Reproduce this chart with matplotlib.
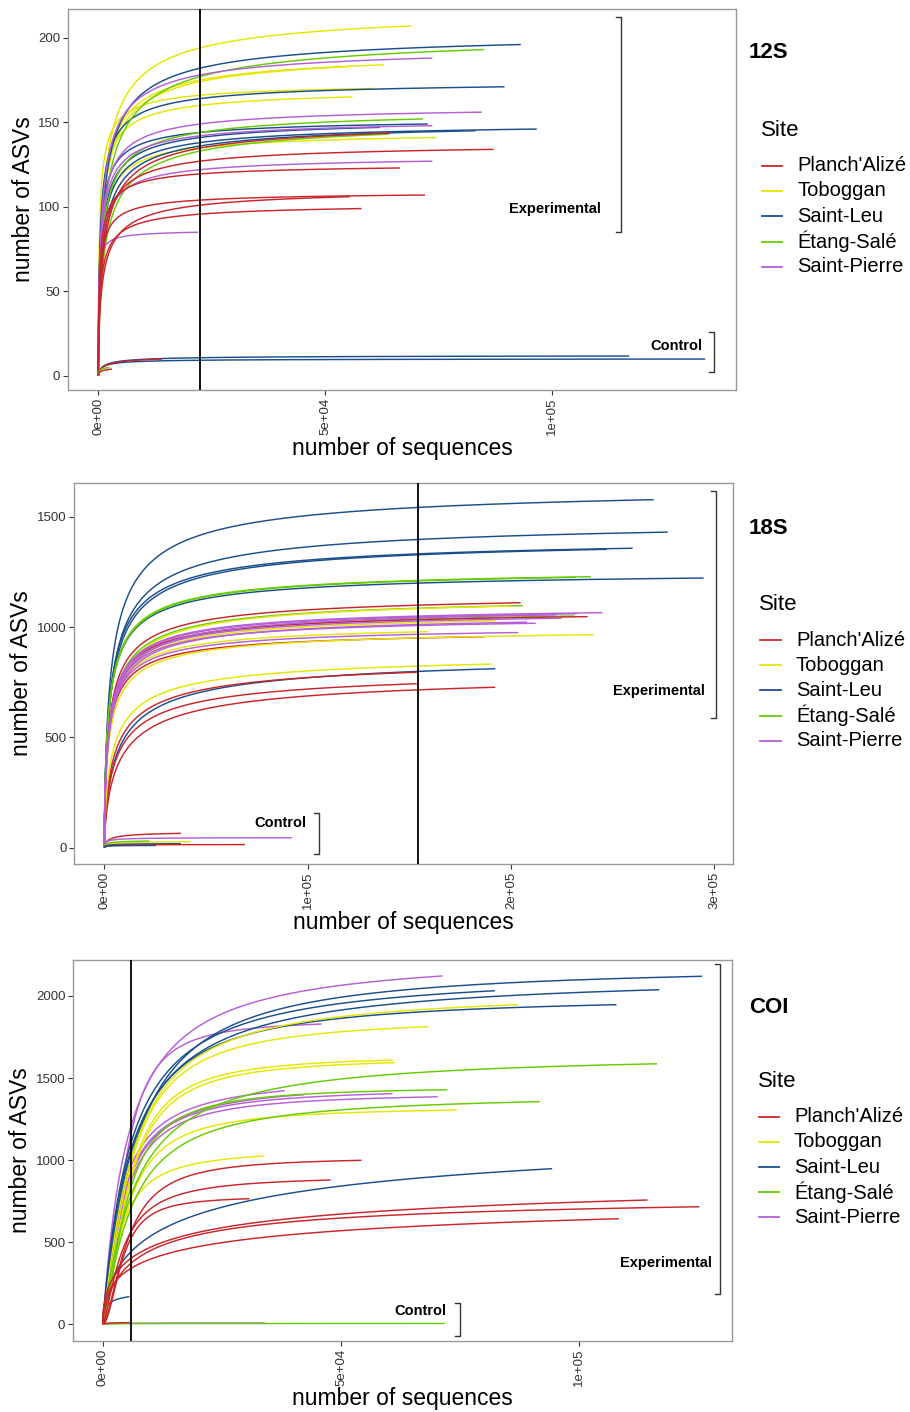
import numpy as np
import matplotlib
matplotlib.use("Agg")
import matplotlib.pyplot as plt
from matplotlib.lines import Line2D

plt.rcParams['font.family'] = ['Liberation Sans', 'DejaVu Sans']

W, H = 910, 1412

sites = ["Planch'Alizé", "Toboggan", "Saint-Leu", "Étang-Salé", "Saint-Pierre"]
site_colors = ["#C9252B", "#E6E600", "#1A4F8C", "#66CC00", "#B65FD8"]

# 12S : site index, sequencing depth, final ASVs, ASVs at the mid reading
site_12s = [1, 1, 1, 1, 1, 1,
            2, 2, 2, 2, 2, 2,
            3, 3, 3,
            4, 4, 4, 4, 4,
            0, 0, 0, 0, 0, 0,
            2, 2, 0, 3, 0]
depth_12s = [69000, 63000, 55400, 60600, 56000, 74500,
             93100, 89500, 72600, 62000, 96600, 83100,
             85000, 71500, 64000,
             73600, 84500, 73600, 73600, 22000,
             64300, 87100, 66500, 72000, 55400, 58000,
             117000, 133700, 14000, 2500, 3000]
final_12s = [207, 184, 183, 170, 165, 141,
             196, 171, 149, 147, 146, 145,
             193, 152, 143,
             188, 156, 148, 127, 85,
             143.6, 134, 123, 107, 106, 99,
             11.8, 10, 10, 5, 4]
mid_12s = [194, 175, 174, 166, 160, 135,
           182, 164, 144, 141, 138, 136,
           177, 144, 133,
           178, 149, 142, 122, 84,
           134.7, 127, 119.5, 104, 101, 95.7,
           10.8, 9.3, 9, 4.5, 3.5]

# 18S
site_18s = [2, 2, 2, 2, 2, 2,
            3, 3, 3, 3,
            0, 0, 0, 0, 0, 0,
            1, 1, 1, 1, 1,
            4, 4, 4, 4, 4, 4, 4,
            0, 4, 1, 3, 2, 0, 2]
depth_18s = [270200, 277100, 259900, 247100, 294800, 192300,
             239300, 232000, 205800, 231200,
             204800, 237800, 186900, 153700, 153700, 192300,
             200000, 192500, 159400, 240900, 190700,
             245000, 232400, 222000, 212200, 208000, 203600, 225000,
             37700, 92200, 42300, 22100, 37700, 69200, 25300]
final_18s = [1577, 1430, 1357, 1352, 1222, 811,
             1228, 1225, 1097, 1050,
             1110, 1047, 956, 795, 743, 727,
             1095, 1028, 979, 965, 832,
             1065, 1060, 1055, 1017, 1022, 975, 1040,
             65, 45, 27, 30, 18, 14, 10]
mid_18s = [1266, 1145, 1115, 1100, 1030, 600,
           1040, 1035, 915, 880,
           935, 890, 825, 620, 570, 526,
           905, 870, 850, 810, 660,
           900, 895, 880, 870, 860, 840, 880,
           60, 42, 25, 28, 17, 13, 9.5]

# COI (early = ASVs read at the vertical line, None when not readable)
site_coi = [4, 4, 4, 4, 4, 4,
            2, 2, 2, 2, 2, 2,
            1, 1, 1, 1, 1, 1,
            3, 3, 3,
            0, 0, 0, 0, 0, 0,
            4, 3, 0]
depth_coi = [71300, 45900, 38200, 42300, 60800, 70300,
             125800, 82300, 116800, 107800, 94300, 5600,
             87200, 68300, 60800, 61300, 74300, 33800,
             116300, 72300, 91700,
             54300, 47800, 30800, 114300, 125200, 108300,
             34000, 71800, 5700]
final_coi = [2122, 1829, 1423, 1399, 1405, 1386,
             2120, 2032, 2038, 1947, 948, 168,
             1947, 1813, 1610, 1594, 1305, 1025,
             1587, 1429, 1356,
             999, 879, 765, 757, 716, 643,
             8, 5, 10]
mid_coi = [1813, 1740, 1320, 1300, 1290, 1265,
           1700, 1700, 1650, 1640, 670, 150,
           1630, 1590, 1470, 1446, 1183, 960,
           1280, 1305, 1143,
           920, 818, 725, 560, 545, 473,
           7.5, 4.7, 9]
early_coi = [1200, 1150, 960, 920, 900, 870,
             1000, 1100, 1060, 1040, 440, None,
             1000, 970, 900, 880, 760, 720,
             780, 830, 700,
             560, 560, 520, 400, 370, 340,
             None, None, None]


def px(x, y):
    return x / W, 1 - y / H


def fit(x1, y1, x2, y2, n):
    u1, u2 = x1 ** n, x2 ** n
    kn = u1 * u2 * (y2 - y1) / (y1 * u2 - y2 * u1)
    return y2 * (kn + u2) / u2, kn


def curve(depth, final, mid, mid_x, n, early=None, early_x=None):
    # saturating curve through (x1, mid) and (depth, final)
    x1 = min(mid_x, depth / 2)
    if early is not None:
        # choose the exponent so the curve also passes the early reading
        nmin = np.log(mid / final) / np.log(x1 / depth) + 0.01
        best = None
        for nn in np.linspace(nmin, 3.0, 400):
            s, kn = fit(x1, mid, depth, final, nn)
            u0 = early_x ** nn
            err = abs(s * u0 / (kn + u0) - early)
            if best is None or err < best[0]:
                best = (err, nn)
        n = best[1]
    s, kn = fit(x1, mid, depth, final, n)
    x = np.unique(np.concatenate([np.linspace(0, depth, 300), np.geomspace(1, depth, 300)]))
    u = x ** n
    return x, s * u / (kn + u)


def panel(box, site, depth, final, mid, mid_x, n, cut, xlim, ylim, xticks, yticks,
          ylab_x, early=None):
    l, t, r, b = box
    ax = fig.add_axes([l / W, 1 - b / H, (r - l) / W, (b - t) / H])
    for i in range(len(depth)):
        e = early[i] if early is not None else None
        x, y = curve(depth[i], final[i], mid[i], mid_x, n, e, cut)
        ax.plot(x, y, color=site_colors[site[i]], lw=1.05, solid_capstyle='butt')
    ax.axvline(cut, color='black', lw=1.3, zorder=5)
    ax.set_xlim(xlim)
    ax.set_ylim(ylim)
    ax.set_xticks(xticks)
    ax.set_xticklabels([format(v, '.0e') for v in xticks], rotation=90, va='top', ha='center')
    ax.set_yticks(yticks)
    ax.set_yticklabels([str(v) for v in yticks])
    ax.tick_params(length=3.5, width=0.8, color='#333333', labelsize=9.5,
                   labelcolor='#333333', pad=2)
    for sp in ax.spines.values():
        sp.set_color('#999999')
        sp.set_linewidth(1.0)
    # axis titles centred on the panel
    fig.text(*px(ylab_x, (t + b) / 2), 'number of ASVs', rotation=90, fontsize=16.5,
             ha='center', va='center')
    fig.text(*px((l + r) / 2, b + 58), 'number of sequences', fontsize=16.5,
             ha='center', va='center')
    return ax


def bracket(ax, x, y0, y1, tick, label, lx, ly):
    ax.plot([x - tick, x, x, x - tick], [y1, y1, y0, y0], color='#333333', lw=1.0,
            clip_on=False)
    ax.text(lx, ly, label, ha='right', va='center', fontsize=10.5, fontweight='bold')


def legend(ty, lx0, lx1, tx, ys, tag, tagy):
    fig.text(*px(749, tagy), tag, fontsize=16, fontweight='bold', va='center', ha='left')
    fig.text(*px(lx0 - 1, ty), 'Site', fontsize=16, va='center', ha='left')
    for k in range(len(sites)):
        fig.add_artist(Line2D([lx0 / W, lx1 / W], [1 - ys[k] / H] * 2,
                              color=site_colors[k], lw=1.3))
        fig.text(*px(tx, ys[k]), sites[k], fontsize=14.5, va='center', ha='left')


fig = plt.figure(figsize=(W / 100, H / 100), dpi=100)

# 12S
ax1 = panel((68, 9, 736, 390), site_12s, depth_12s, final_12s, mid_12s, 22400, 0.7,
            22400, (-6670, 140500), (-8.3, 217), [0, 50000, 100000], [0, 50, 100, 150, 200],
            24)
bracket(ax1, 115150, 85, 212, 1100, 'Experimental', 110700, 99)
bracket(ax1, 135700, 2.4, 26, 1100, 'Control', 133150, 17.8)
legend(131, 762, 782, 797, [165.7, 191, 216.3, 241.7, 266.7], '12S', 53)

# 18S
ax2 = panel((74.3, 482.7, 733.3, 864), site_18s, depth_18s, final_18s, mid_18s, 20000, 0.7,
            154150, (-14760, 309400), (-74, 1654), [0, 100000, 200000, 300000],
            [0, 500, 1000, 1500], 22)
bracket(ax2, 300700, 586, 1617, 2460, 'Experimental', 295500, 711)
bracket(ax2, 105600, -28.5, 156, 2460, 'Control', 99560, 113)
legend(605, 760, 781, 796, [640, 665.3, 690.3, 715.7, 740.7], '18S', 528.3)

# COI
ax3 = panel((73, 959.7, 732.3, 1340.7), site_coi, depth_coi, final_coi, mid_coi, 20000, 0.9,
            5870, (-6230, 132100), (-100, 2221), [0, 50000, 100000],
            [0, 500, 1000, 1500, 2000], 21, early=early_coi)
bracket(ax3, 129500, 183, 2195, 1050, 'Experimental', 127800, 371.6)
bracket(ax3, 74960, -71, 131.6, 1050, 'Control', 72020, 82.8)
legend(1081.7, 759, 779, 794, [1116.7, 1141.7, 1167.3, 1192.3, 1217.3], 'COI', 1007.7)

fig.savefig('out.png', dpi=100)
